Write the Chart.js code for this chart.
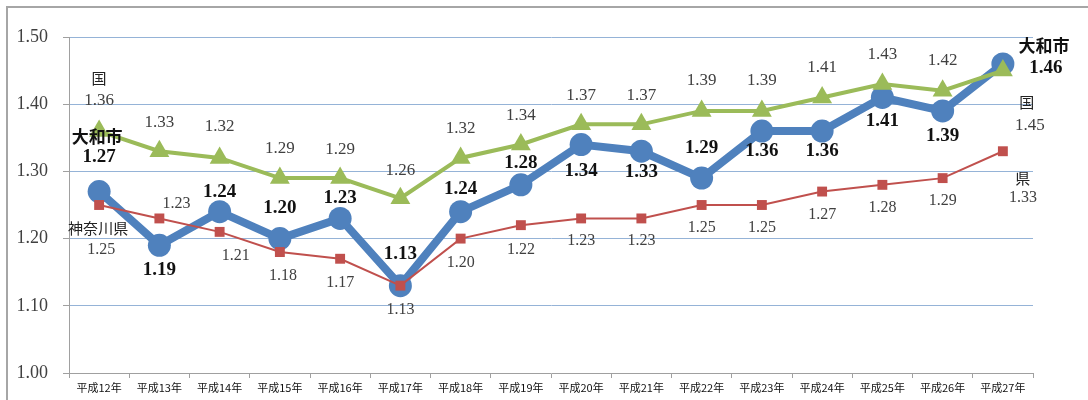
<!DOCTYPE html>
<html>
<head>
<meta charset="utf-8">
<script src="https://cdn.jsdelivr.net/npm/chart.js@4"></script>
<style>
    html, body { margin: 0; padding: 0; background: #fff; }
    #wrap { position: relative; width: 1088px; height: 400px; overflow: hidden; }
    #frame { position: absolute; left: 6px; top: 6px; width: 1200px; height: 600px; border: 2px solid #a6a6a6; }
    #chart { position: absolute; left: 0; top: 0; }
</style>
</head>
<body>
<div id="wrap">
    <div id="frame"></div>
    <canvas id="chart" width="1088" height="400"></canvas>
</div>
<script>
// Years (Heisei 12 - 27)
const years = ['平成12年', '平成13年', '平成14年', '平成15年', '平成16年', '平成17年', '平成18年', '平成19年',
    '平成20年', '平成21年', '平成22年', '平成23年', '平成24年', '平成25年', '平成26年', '平成27年'];

// Total fertility rate
const yamato = [1.27, 1.19, 1.24, 1.20, 1.23, 1.13, 1.24, 1.28, 1.34, 1.33, 1.29, 1.36, 1.36, 1.41, 1.39, 1.46];
const kuni = [1.36, 1.33, 1.32, 1.29, 1.29, 1.26, 1.32, 1.34, 1.37, 1.37, 1.39, 1.39, 1.41, 1.43, 1.42, 1.45];
const kanagawa = [1.25, 1.23, 1.21, 1.18, 1.17, 1.13, 1.20, 1.22, 1.23, 1.23, 1.25, 1.25, 1.27, 1.28, 1.29, 1.33];

const yTicks = [1.00, 1.10, 1.20, 1.30, 1.40, 1.50];

// label offsets from each point [dx, dy]
const yamatoOff = [[0, -34], [0, 25], [0, -20], [0, -31], [0, -20], [0, -32], [0, -23], [0, -22],
    [0, 27], [0, 21], [0, -30], [0, 20], [0, 20], [0, 24], [0, 25], [43, 4]];
const kuniOff = [[0, -31], [0, -29], [0, -31], [0, -30], [0, -29], [0, -28], [0, -29], [0, -29],
    [0, -29], [0, -29], [0, -30], [0, -30], [0, -30], [0, -30], [0, -30], [27, 55]];
const kenOff = [[2, 45], [17, -15], [16, 24], [3, 24], [0, 24], [0, 24], [0, 24], [0, 25],
    [0, 22], [0, 22], [0, 23], [0, 23], [0, 23], [0, 23], [0, 23], [20, 47]];

// series names written next to a point: [dataset, index, text, dx, dy]
const seriesNames = [
    [0, 0, '大和市', -2, -55],
    [0, 15, '大和市', 41, -18],
    [1, 0, '国', 0, -53],
    [1, 15, '国', 24, 32],
    [2, 0, '神奈川県', -1, 23],
    [2, 15, '県', 20, 27]
];

const labelPlugin = {
    id: 'pointLabels',
    afterDatasetsDraw(chart) {
        const ctx = chart.ctx;
        const xs = chart.scales.x;
        const ys = chart.scales.y;
        const sets = [
            { data: yamato, off: yamatoOff, font: 'bold 19px "Liberation Serif", "Noto Sans CJK JP"', color: '#111' },
            { data: kuni, off: kuniOff, font: '17px "Liberation Serif", "Noto Sans CJK JP"', color: '#404040' },
            { data: kanagawa, off: kenOff, font: '16px "Liberation Serif", "Noto Sans CJK JP"', color: '#404040' }
        ];
        ctx.save();
        ctx.textAlign = 'center';
        ctx.textBaseline = 'middle';
        sets.forEach(s => {
            ctx.font = s.font;
            ctx.fillStyle = s.color;
            s.data.forEach((v, i) => {
                const x = xs.getPixelForValue(i) + s.off[i][0];
                const y = ys.getPixelForValue(v) + s.off[i][1];
                ctx.fillText(v.toFixed(2), x, y);
            });
        });
        seriesNames.forEach(n => {
            const s = sets[n[0]];
            ctx.font = n[0] === 0 ? 'bold 17px "Noto Sans CJK JP"' : '15px "Noto Sans CJK JP"';
            ctx.fillStyle = n[0] === 0 ? '#111' : '#222';
            const x = xs.getPixelForValue(n[1]) + n[3];
            const y = ys.getPixelForValue(s.data[n[1]]) + n[4];
            ctx.fillText(n[2], x, y);
        });
        ctx.restore();
    }
};

new Chart(document.getElementById('chart').getContext('2d'), {
    type: 'line',
    data: {
        labels: years,
        datasets: [{
            label: '大和市',
            data: yamato,
            borderColor: '#4f81bd',
            backgroundColor: '#4f81bd',
            borderWidth: 8,
            pointRadius: 11.5,
            pointStyle: 'circle',
            pointBorderWidth: 0,
            tension: 0,
            order: 3
        }, {
            label: '国',
            data: kuni,
            borderColor: '#9bbb59',
            backgroundColor: '#9bbb59',
            borderWidth: 4,
            pointRadius: 11.5,
            pointStyle: 'triangle',
            pointBorderWidth: 0,
            tension: 0,
            order: 2
        }, {
            label: '神奈川県',
            data: kanagawa,
            borderColor: '#c0504d',
            backgroundColor: '#c0504d',
            borderWidth: 2,
            pointRadius: 7,
            pointStyle: 'rect',
            pointBorderWidth: 0,
            tension: 0,
            order: 1
        }]
    },
    options: {
        responsive: false,
        animation: false,
        layout: { padding: { top: 37, left: 0, right: 55, bottom: 0 } },
        plugins: {
            legend: { display: false },
            tooltip: { enabled: false }
        },
        scales: {
            x: {
                offset: true,
                afterFit: scale => { scale.height = 27; },
                grid: {
                    offset: true,
                    drawOnChartArea: false,
                    drawTicks: true,
                    tickLength: 5,
                    tickColor: '#a0a0a0'
                },
                border: { color: '#a0a0a0', width: 1 },
                ticks: {
                    padding: 3,
                    maxRotation: 0,
                    autoSkip: false,
                    color: '#111',
                    font: { family: '"Noto Sans CJK JP"', size: 11 }
                }
            },
            y: {
                min: 1.0,
                max: 1.5,
                afterFit: scale => { scale.width = 69; },
                afterBuildTicks: scale => { scale.ticks = yTicks.map(v => ({ value: v })); },
                grid: {
                    color: ctx => ctx.tick && ctx.tick.value === 1.0 ? 'rgba(0,0,0,0)' : '#95b3d7',
                    lineWidth: 1,
                    drawTicks: true,
                    tickLength: 6,
                    tickColor: '#a0a0a0'
                },
                border: { color: '#a0a0a0', width: 1 },
                ticks: {
                    padding: 15,
                    color: '#404040',
                    font: { family: '"Liberation Serif"', size: 18 },
                    callback: v => v.toFixed(2)
                }
            }
        }
    },
    plugins: [labelPlugin]
});
</script>
</body>
</html>
